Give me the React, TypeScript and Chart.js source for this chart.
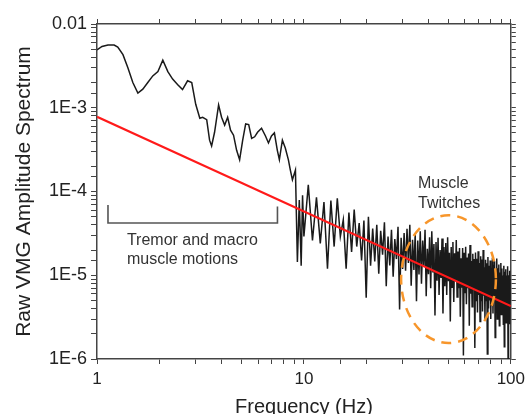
import React, { useEffect, useRef } from 'react';
import { Chart, registerables } from 'chart.js';

Chart.register(...registerables);

// ---------- data ----------
const spectrumFreq: number[] = [
  1.0, 1.057, 1.13, 1.21, 1.26, 1.335, 1.41, 1.49, 1.576, 1.665,
  1.76, 1.86, 1.97, 2.08, 2.2, 2.32, 2.45, 2.59, 2.74, 2.87,
  3.0, 3.14, 3.24, 3.39, 3.5, 3.58, 3.7, 3.87, 4.0, 4.14,
  4.28, 4.42, 4.57, 4.73, 4.89, 5.06, 5.23, 5.41, 5.59, 5.78,
  5.97, 6.24, 6.52, 6.74, 6.97, 7.2, 7.44, 7.61, 7.87, 8.13,
  8.41, 8.6, 8.8, 9.1, 9.3, 9.5, 9.7, 9.85,
  10, 10.5, 11, 11.5, 12, 12.5, 13, 13.5, 14, 14.5,
  15, 15.5, 16, 16.5, 17, 17.5, 18, 18.5, 19, 19.5,
  20, 20.5, 21, 21.5, 22, 22.5, 23, 23.5, 24, 24.5,
  25, 25.5, 26, 26.5, 27, 27.5, 28, 28.5, 29, 29.5,
  30, 30.5,
  31, 31.5, 32, 32.5, 33, 33.5, 34, 34.5, 35, 35.5,
  36, 36.5, 37, 37.5, 38, 38.5, 39, 39.5, 40, 40.5,
  41, 41.5, 42, 42.5, 43, 43.5, 44, 44.5, 45, 45.5,
  46, 46.5, 47, 47.5, 48, 48.5, 49, 49.5, 50, 50.5,
  51, 51.5, 52, 52.5, 53, 53.5, 54, 54.5, 55, 55.5,
  56, 56.5, 57, 57.5, 58, 58.5, 59, 59.5, 60, 60.5,
  61, 61.5, 62, 62.5, 63, 63.5, 64, 64.5, 65, 65.5,
  66, 66.5, 67, 67.5, 68, 68.5, 69, 69.5, 70, 70.5,
  71, 71.5, 72, 72.5, 73, 73.5, 74, 74.5, 75, 75.5,
  76, 76.5, 77, 77.5, 78, 78.5, 79, 79.5, 80, 80.5,
  81, 81.5, 82, 82.5, 83, 83.5, 84, 84.5, 85, 85.5,
  86, 86.5, 87, 87.5, 88, 88.5, 89, 89.5, 90, 90.5,
  91, 91.5, 92, 92.5, 93, 93.5, 94, 94.5, 95, 95.5,
  96, 96.5, 97, 97.5, 98, 98.5, 99, 99.5, 100,
];

const spectrumAmp: number[] = [
  4.9e-3, 5.4e-3, 5.6e-3, 5.6e-3, 5.3e-3, 4.3e-3, 3.0e-3, 2.0e-3, 1.5e-3, 1.67e-3,
  2.0e-3, 2.4e-3, 2.7e-3, 3.7e-3, 2.7e-3, 2.2e-3, 1.9e-3, 1.65e-3, 2.1e-3, 2.0e-3,
  1.1e-3, 7.5e-4, 7.7e-4, 7.2e-4, 4.1e-4, 3.5e-4, 5.1e-4, 1.08e-3, 7.7e-4, 6.2e-4,
  7.7e-4, 5.4e-4, 4.7e-4, 3.1e-4, 2.4e-4, 4.1e-4, 6.4e-4, 6.3e-4, 4.3e-4, 4.5e-4,
  5.1e-4, 5.7e-4, 4.6e-4, 3.8e-4, 4.6e-4, 5.0e-4, 3.1e-4, 2.4e-4, 4.1e-4, 3.3e-4,
  2.4e-4, 1.8e-4, 1.38e-4, 1.8e-4, 1.44e-5, 7.9e-5, 1.3e-5, 9.0e-5,
  2.9e-5, 1.2e-4, 2.6e-5, 8.5e-5, 2.4e-5, 7.5e-5, 1.2e-5, 7.8e-5, 2.2e-5, 8.3e-5,
  2.9e-5, 4.6e-5, 1.2e-5, 5.6e-5, 1.9e-5, 6.1e-5, 2.2e-5, 4.2e-5, 1.5e-5, 4.5e-5,
  5.4e-6, 5.0e-5, 1.3e-5, 3.6e-5, 1.46e-5, 4.0e-5, 1.04e-5, 3.4e-5, 1.76e-5, 4.3e-5,
  7.4e-6, 2.9e-5, 1.31e-5, 3.5e-5, 9.6e-6, 2.7e-5, 1.56e-5, 3.8e-5, 3.9e-6, 2.8e-5,
  1.19e-5, 3.2e-5,
  1.13e-5, 3.6e-5, 1.4e-5, 4.0e-5, 7.5e-6, 2.65e-5, 1.16e-5, 3.1e-5, 4.9e-6, 2.6e-5,
  1.02e-5, 3.35e-5, 7.9e-6, 2.6e-5, 1.28e-5, 3.5e-5, 5.6e-6, 2.07e-5, 1.03e-5, 2.85e-5,
  7.0e-6, 3.35e-5, 1.08e-5, 2.36e-5, 3.3e-6, 2.5e-5, 8.6e-6, 2.8e-5, 5.8e-6, 2.0e-5,
  9.3e-6, 2.75e-5, 3.5e-6, 2.18e-5, 7.4e-6, 2.43e-5, 5.8e-6, 2.85e-5, 8.5e-6, 1.86e-5,
  2.8e-6, 2.18e-5, 7.2e-6, 2.5e-5, 4.8e-6, 1.83e-5, 8.6e-6, 2.64e-5, 5.5e-6, 1.92e-5,
  7.0e-6, 2.12e-5, 3.2e-6, 1.6e-5, 7.1e-6, 2.12e-5, 1.1e-6, 1.85e-5, 6.1e-6, 2.19e-5,
  4.5e-6, 1.63e-5, 7.0e-6, 1.82e-5, 2.5e-6, 2.29e-5, 6.0e-6, 1.48e-5, 4.2e-6, 1.8e-5,
  6.85e-6, 1.56e-5, 1.35e-6, 1.87e-5, 5.0e-6, 1.57e-5, 3.6e-6, 1.94e-5, 5.8e-6, 1.4e-5,
  2.8e-6, 1.69e-5, 5.0e-6, 1.54e-5, 3.7e-6, 2.0e-5, 5.7e-6, 1.25e-5, 3.0e-6, 1.53e-5,
  5.0e-6, 1.39e-5, 1.15e-6, 1.65e-5, 4.0e-6, 1.3e-5, 5.0e-6, 1.5e-5, 3.0e-6, 1.2e-5,
  4.3e-6, 1.62e-5, 3.5e-6, 1.33e-5, 5.3e-6, 1.47e-5, 1.8e-6, 1.19e-5, 4.6e-6, 1.58e-5,
  3.0e-6, 1.21e-5, 4.25e-6, 1.34e-5, 2.5e-6, 1.08e-5, 4.6e-6, 1.4e-5, 3.4e-6, 1.2e-5,
  3.8e-6, 9.9e-6, 2.6e-6, 1.3e-5, 1.4e-6, 1.1e-5, 4.1e-6, 1.18e-5, 2.7e-6, 9.9e-6,
  3.8e-6, 1.28e-5, 1.0e-6, 1.0e-5, 3.3e-6, 1.13e-5, 2.6e-6, 9.0e-6, 4.7e-6,
];

const fitFreq: number[] = [1, 100];
const fitAmp: number[] = [7.8e-4, 4.28e-6];

const xTickValues: number[] = [1, 10, 100];
const xTickLabels: string[] = ['1', '10', '100'];
const yTickValues: number[] = [1e-6, 1e-5, 1e-4, 1e-3, 1e-2];
const yTickLabels: string[] = ['1E-6', '1E-5', '1E-4', '1E-3', '0.01'];

const xTitle = 'Frequency (Hz)';
const yTitle = 'Raw VMG Amplitude Spectrum';

// annotation anchors (data coordinates)
const bracketX: number[] = [1.13, 7.45];
const bracketTopY: number[] = [6.9e-5, 6.6e-5];
const bracketBottomY = 4.2e-5;
const tremorLines: string[] = ['Tremor and macro', 'muscle motions'];
const tremorX = 1.395;
const tremorY: number[] = [2.3e-5, 1.36e-5];
const twitchLines: string[] = ['Muscle', 'Twitches'];
const twitchX = 35.6;
const twitchY: number[] = [1.1e-4, 6.35e-5];
const ellipseX: number[] = [29.5, 84.7];
const ellipseY: number[] = [5.2e-5, 1.55e-6];

// ---------- helpers ----------
const FONT = "'Liberation Sans', Arial, Helvetica, sans-serif";
const AXIS_COLOR = '#444';
const TEXT_COLOR = '#222';

function labelFor(values: number[], labels: string[]) {
  return (v: number | string) => {
    const n = Number(v);
    for (let i = 0; i < values.length; i++) {
      if (Math.abs(Math.log10(n) - Math.log10(values[i])) < 1e-6) return labels[i];
    }
    return '';
  };
}

const annotationPlugin = {
  id: 'vmgAnnotations',
  afterDatasetsDraw(chart: any) {
    const { ctx } = chart;
    const x = chart.scales.x;
    const y = chart.scales.y;
    ctx.save();

    // bracket
    ctx.strokeStyle = '#555';
    ctx.lineWidth = 1.6;
    ctx.setLineDash([]);
    ctx.beginPath();
    ctx.moveTo(x.getPixelForValue(bracketX[0]), y.getPixelForValue(bracketTopY[0]));
    ctx.lineTo(x.getPixelForValue(bracketX[0]), y.getPixelForValue(bracketBottomY));
    ctx.lineTo(x.getPixelForValue(bracketX[1]), y.getPixelForValue(bracketBottomY));
    ctx.lineTo(x.getPixelForValue(bracketX[1]), y.getPixelForValue(bracketTopY[1]));
    ctx.stroke();

    // dashed ellipse
    const ex0 = x.getPixelForValue(ellipseX[0]);
    const ex1 = x.getPixelForValue(ellipseX[1]);
    const ey0 = y.getPixelForValue(ellipseY[0]);
    const ey1 = y.getPixelForValue(ellipseY[1]);
    ctx.strokeStyle = '#f7962b';
    ctx.lineWidth = 2.5;
    ctx.setLineDash([10, 7]);
    ctx.beginPath();
    ctx.ellipse((ex0 + ex1) / 2, (ey0 + ey1) / 2, Math.abs(ex1 - ex0) / 2, Math.abs(ey1 - ey0) / 2, 0, 0, Math.PI * 2);
    ctx.stroke();
    ctx.setLineDash([]);

    // texts
    ctx.fillStyle = '#333';
    ctx.font = `16px ${FONT}`;
    ctx.textAlign = 'left';
    ctx.textBaseline = 'alphabetic';
    tremorLines.forEach((t, i) => {
      ctx.fillText(t, x.getPixelForValue(tremorX), y.getPixelForValue(tremorY[i]));
    });
    twitchLines.forEach((t, i) => {
      ctx.fillText(t, x.getPixelForValue(twitchX), y.getPixelForValue(twitchY[i]));
    });

    ctx.restore();
  },
};

function gridOpts() {
  return {
    display: true,
    drawOnChartArea: false,
    drawTicks: true,
    tickLength: 5,
    tickColor: AXIS_COLOR,
    tickWidth: 1,
  };
}

export default function App() {
  const canvasRef = useRef<HTMLCanvasElement | null>(null);

  useEffect(() => {
    if (!canvasRef.current) return;
    Chart.defaults.font.family = FONT;

    const spectrum = spectrumFreq.map((f, i) => ({ x: f, y: spectrumAmp[i] }));
    const fit = fitFreq.map((f, i) => ({ x: f, y: fitAmp[i] }));

    const chart = new Chart(canvasRef.current, {
      type: 'line',
      data: {
        datasets: [
          {
            label: 'fit',
            data: fit,
            borderColor: '#ff1a1a',
            borderWidth: 2.2,
            pointRadius: 0,
            tension: 0,
          },
          {
            label: 'spectrum',
            data: spectrum,
            borderColor: '#1a1a1a',
            borderWidth: 1.5,
            pointRadius: 0,
            tension: 0,
          },
        ],
      },
      options: {
        animation: false,
        responsive: false,
        devicePixelRatio: 1,
        layout: { padding: 0 },
        plugins: {
          legend: { display: false },
          tooltip: { enabled: false },
        },
        scales: {
          x: {
            type: 'logarithmic',
            position: 'bottom',
            min: 1,
            max: 100,
            afterFit: (s: any) => { s.height = 55; },
            border: { display: true, color: AXIS_COLOR, width: 1.5 },
            grid: gridOpts(),
            ticks: {
              autoSkip: false,
              maxRotation: 0,
              padding: 5,
              color: TEXT_COLOR,
              font: { size: 17 },
              callback: labelFor(xTickValues, xTickLabels),
            },
            title: {
              display: true,
              text: xTitle,
              color: TEXT_COLOR,
              font: { size: 20 },
              padding: { top: 0, bottom: -5 },
            },
          },
          x2: {
            type: 'logarithmic',
            position: 'top',
            min: 1,
            max: 100,
            afterFit: (s: any) => { s.height = 24; },
            border: { display: true, color: AXIS_COLOR, width: 1.5 },
            grid: gridOpts(),
            ticks: { autoSkip: false, maxRotation: 0, callback: () => '' },
          },
          y: {
            type: 'logarithmic',
            position: 'left',
            min: 1e-6,
            max: 1e-2,
            afterFit: (s: any) => { s.width = 97; },
            border: { display: true, color: AXIS_COLOR, width: 1.5 },
            grid: { ...gridOpts(), tickLength: 6 },
            ticks: {
              autoSkip: false,
              padding: 4,
              color: TEXT_COLOR,
              font: { size: 18 },
              callback: labelFor(yTickValues, yTickLabels),
            },
            title: {
              display: true,
              text: yTitle,
              color: TEXT_COLOR,
              font: { size: 21 },
              padding: { top: 12, bottom: 0 },
            },
          },
          y2: {
            type: 'logarithmic',
            position: 'right',
            min: 1e-6,
            max: 1e-2,
            afterFit: (s: any) => { s.width = 18; },
            border: { display: true, color: AXIS_COLOR, width: 1.5 },
            grid: gridOpts(),
            ticks: { autoSkip: false, callback: () => '' },
          },
        },
      } as any,
      plugins: [annotationPlugin],
    });

    return () => chart.destroy();
  }, []);

  return (
    <div style={{ position: 'absolute', left: 0, top: 0, width: 530, height: 414, background: '#fff' }}>
      <canvas ref={canvasRef} width={530} height={414} style={{ display: 'block', width: 530, height: 414 }} />
    </div>
  );
}
